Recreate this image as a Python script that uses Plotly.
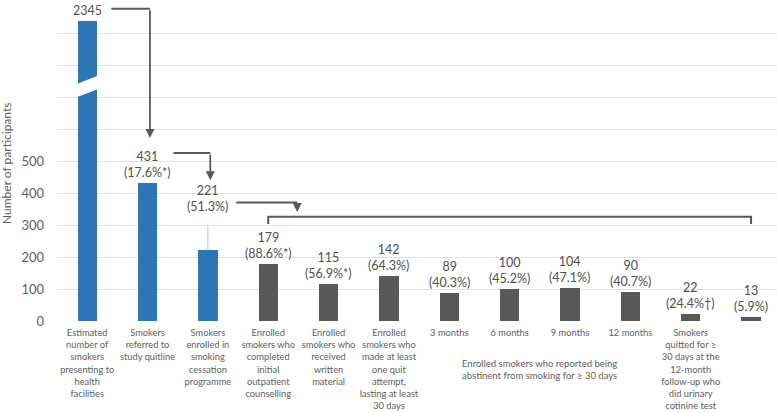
import plotly.graph_objects as go

# ---------------- data ----------------
categories = [
    "Estimated<br>number of<br>smokers<br>presenting to<br>health<br>facilities",
    "Smokers<br>referred to<br>study quitline",
    "Smokers<br>enrolled in<br>smoking<br>cessation<br>programme",
    "Enrolled<br>smokers who<br>completed<br>initial<br>outpatient<br>counselling",
    "Enrolled<br>smokers who<br>received<br>written<br>material",
    "Enrolled<br>smokers who<br>made at least<br>one quit<br>attempt,<br>lasting at least<br>30 days",
    "3 months",
    "6 months",
    "9 months",
    "12 months",
    "Smokers<br>quitted for ≥<br>30 days at the<br>12-month<br>follow-up who<br>did urinary<br>cotinine test",
    "Smoking<br>abstinence<br>verified by<br>urinary<br>cotinine test",
]
values = [2345, 431, 221, 179, 115, 142, 89, 100, 104, 90, 22, 13]
percent_labels = ["", "17.6%*", "51.3%", "88.6%*", "56.9%*", "64.3%", "40.3%",
                  "45.2%", "47.1%", "40.7%", "24.4%†", "5.9%"]
group_label = "Enrolled smokers who reported being<br>abstinent from smoking for ≥ 30 days"
y_tick_values = [0, 100, 200, 300, 400, 500]

# ---------------- styling ----------------
BLUE = "#2E75B6"
GREY_BAR = "#595959"
TEXT = "#606060"
LABEL = "#505050"
GRID = "#e3e3e3"
ARROW = "#595959"
FONT = "Lato, 'Open Sans', sans-serif"

# broken axis: values above BREAK_FROM are compressed
BREAK_FROM = 500
BREAK_SCALE = 0.237


def broken(v):
    return v if v <= BREAK_FROM else BREAK_FROM + (v - BREAK_FROM) * BREAK_SCALE


x = list(range(len(values)))
display = [broken(v) for v in values]
colors = [BLUE] * 3 + [GREY_BAR] * (len(values) - 3)

fig = go.Figure()
fig.add_trace(go.Bar(
    x=x, y=display, marker=dict(color=colors, line=dict(width=0)),
    width=0.32, hoverinfo="skip", showlegend=False,
))

# data labels
for i, (v, p, d) in enumerate(zip(values, percent_labels, display)):
    text = f"{v}" if not p else f"{v}<br>({p})"
    shift = 34 if i == 2 else 1
    fig.add_annotation(x=i, y=d, text=text, showarrow=False, xanchor="center",
                       yanchor="bottom", yshift=shift,
                       font=dict(family=FONT, size=12.5, color=LABEL))

# leader line for the raised label
fig.add_shape(type="line", xref="x", yref="y", x0=2, x1=2, ysizemode="pixel",
              yanchor=display[2], y0=0, y1=25, line=dict(color="#bfbfbf", width=1))

# axis-break gap on first bar
gap_top, gap_bot, slope, hw = 753.5, 711.5, 72, 0.175
fig.add_shape(type="path", xref="x", yref="y",
              path=(f"M {-hw},{gap_top - slope*hw} L {hw},{gap_top + slope*hw} "
                    f"L {hw},{gap_bot + slope*hw} L {-hw},{gap_bot - slope*hw} Z"),
              fillcolor="white", line=dict(width=0), layer="above")

# flow arrows: (x_start, x_turn, y_level, y_tip)
arrows = [(0.40, 1.04, 976, 572), (1.43, 2.04, 525, 440), (2.47, 3.48, 370, 341)]
for xs, xt, yl, yt in arrows:
    fig.add_shape(type="line", xref="x", yref="y", x0=xs, x1=xt, y0=yl, y1=yl,
                  line=dict(color=ARROW, width=2))
    fig.add_annotation(x=xt, y=yt, ax=xt, ay=yl, axref="x", ayref="y", xref="x", yref="y",
                       text="", showarrow=True, arrowhead=2, arrowsize=1,
                       arrowwidth=1.8, arrowcolor=ARROW, standoff=0)

# bracket over the enrolled-smoker bars
fig.add_shape(type="path", xref="x", yref="y",
              path="M 3,303 L 3,326 L 11,326 L 11,303",
              line=dict(color=ARROW, width=2))

# group label under the follow-up bars
fig.add_annotation(x=7.5, y=0, xref="x", yref="paper", text=group_label, showarrow=False,
                   xanchor="center", yanchor="top", yshift=-35,
                   font=dict(family=FONT, size=9.5, color=TEXT))

# y-axis title
fig.add_annotation(x=0, y=0.5, xref="paper", yref="paper", text="Number of participants",
                   textangle=-90, showarrow=False, xanchor="center", yanchor="middle",
                   xshift=-51, yshift=-3, font=dict(family=FONT, size=12, color=TEXT))

grid_vals = list(range(0, 1001, 100))
fig.update_layout(
    width=777, height=413,
    margin=dict(l=57, r=0, t=1, b=92, autoexpand=False),
    paper_bgcolor="white", plot_bgcolor="white",
    font=dict(family=FONT, color=TEXT),
    bargap=0,
    xaxis=dict(range=[-0.5, 11.43], tickmode="array", tickvals=x, ticktext=categories,
               tickangle=0, showgrid=False, zeroline=False, showline=False, ticks="",
               automargin=False,
               tickfont=dict(family=FONT, size=9.3, color=TEXT), ticklabelstandoff=5),
    yaxis=dict(range=[0, 1000], tickmode="array", tickvals=grid_vals,
               ticktext=[str(v) if v in y_tick_values else "" for v in grid_vals],
               showgrid=True, gridcolor=GRID, gridwidth=1, zeroline=False, showline=False,
               automargin=False,
               ticks="", tickfont=dict(family=FONT, size=13, color=TEXT),
               ticklabelstandoff=12),
)

fig.write_html("out.html", config={"displayModeBar": False},
               post_script="document.body.style.margin='0';document.body.style.overflow='hidden';")
